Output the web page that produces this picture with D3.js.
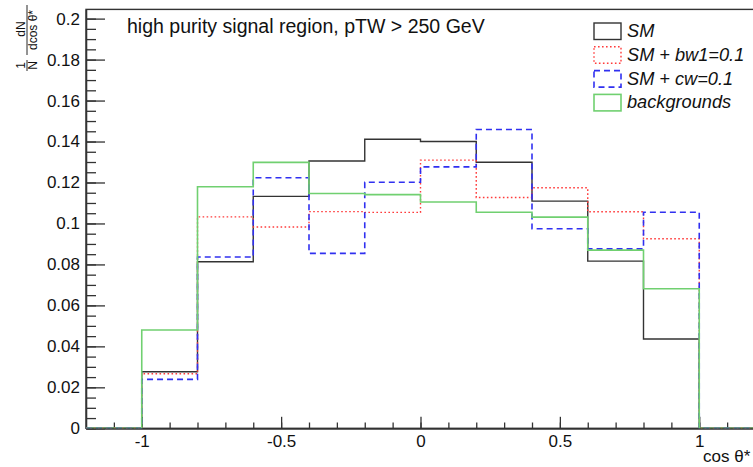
<!DOCTYPE html>
<html>
<head>
<meta charset="utf-8">
<script src="https://cdn.jsdelivr.net/npm/d3@7"></script>
<style>
  body { margin: 0; background: #fff; }
  svg { display: block; font-family: "Liberation Sans", Arial, Helvetica, sans-serif; }
</style>
</head>
<body>
<div id="chart"></div>
<script>
// bin edges of cos theta* (outer bins are empty)
const binEdges = [-1.2, -1, -0.8, -0.6, -0.4, -0.2, 0, 0.2, 0.4, 0.6, 0.8, 1, 1.2];

// normalised contents per bin
const smValues  = [0, 0.0276, 0.0813, 0.1132, 0.1305, 0.1411, 0.1400, 0.1299, 0.1109, 0.0816, 0.0436, 0];
const bw1Values = [0, 0.0266, 0.1032, 0.0983, 0.1058, 0.1054, 0.1309, 0.1127, 0.1174, 0.1057, 0.0925, 0];
const cwValues  = [0, 0.0239, 0.0836, 0.1223, 0.0854, 0.1201, 0.1276, 0.1459, 0.0974, 0.0876, 0.1055, 0];
const bkgValues = [0, 0.0480, 0.1179, 0.1298, 0.1146, 0.1141, 0.1105, 0.1055, 0.1031, 0.0870, 0.0681, 0];

const seriesNames = ["SM", "SM + bw1=0.1", "SM + cw=0.1", "backgrounds"];

const xMajorTicks = [-1, -0.5, 0, 0.5, 1];
const xTickLabels = ["-1", "-0.5", "0", "0.5", "1"];
const yMajorTicks = [0, 0.02, 0.04, 0.06, 0.08, 0.1, 0.12, 0.14, 0.16, 0.18, 0.2];
const yTickLabels = ["0", "0.02", "0.04", "0.06", "0.08", "0.1", "0.12", "0.14", "0.16", "0.18", "0.2"];

const titleText = "high purity signal region, pTW > 250 GeV";

//svg size
const width = 753;
const height = 467;
const frame = { left: 86, top: 9.4, right: 755, bottom: 428.3 };

const svg = d3.select("#chart")
    .append("svg")
    .attr("width", width)
    .attr("height", height);

//scales
const x = d3.scaleLinear().domain([-1.2, 1.2]).range([frame.left, frame.right]);
const y = d3.scaleLinear().domain([0, 0.2045]).range([frame.bottom, frame.top]);

//series styles
const styles = [
  { color: "#333333", dash: null, width: 1.4 },
  { color: "#ff3b3b", dash: "1.6,2.4", width: 1.4 },
  { color: "#3030f0", dash: "6,4", width: 1.6 },
  { color: "#70d070", dash: null, width: 1.6 },
];
const series = [smValues, bw1Values, cwValues, bkgValues].map((values, i) => ({
  name: seriesNames[i],
  values,
  ...styles[i],
}));

//frame
svg.append("rect")
    .attr("x", frame.left)
    .attr("y", frame.top)
    .attr("width", frame.right - frame.left)
    .attr("height", frame.bottom - frame.top)
    .attr("fill", "none")
    .attr("stroke", "#333")
    .attr("stroke-width", 1.4);

//axes
const yAxis = d3.axisLeft(y)
    .tickValues(yMajorTicks)
    .tickFormat((d, i) => yTickLabels[i])
    .tickSize(-19)
    .tickSizeOuter(0)
    .tickPadding(6);
const yMinor = d3.axisLeft(y)
    .tickValues(d3.range(0, 41).map((i) => i * 0.005))
    .tickFormat("")
    .tickSize(-10)
    .tickSizeOuter(0);
const xAxis = d3.axisBottom(x)
    .tickValues(xMajorTicks)
    .tickFormat((d, i) => xTickLabels[i])
    .tickSize(-11.5)
    .tickSizeOuter(0)
    .tickPadding(7);
const xMinor = d3.axisBottom(x)
    .tickValues(d3.range(-11, 12).map((i) => i / 10))
    .tickFormat("")
    .tickSize(-5.8)
    .tickSizeOuter(0);

const gY = svg.append("g").attr("transform", `translate(${frame.left},0)`);
gY.append("g").call(yMinor);
gY.append("g").call(yAxis);
const gX = svg.append("g").attr("transform", `translate(0,${frame.bottom})`);
gX.append("g").call(xMinor);
gX.append("g").call(xAxis);

svg.selectAll(".tick line, .domain")
    .attr("stroke", "#333")
    .attr("stroke-width", 1.3);
svg.selectAll(".tick text")
    .attr("fill", "#111")
    .style("font-family", "'Liberation Sans', Arial, sans-serif")
    .style("font-size", "17px");

//histograms
svg.append("clipPath").attr("id", "clip")
    .append("rect")
    .attr("x", frame.left)
    .attr("y", frame.top)
    .attr("width", frame.right - frame.left)
    .attr("height", frame.bottom - frame.top);

const step = d3.line()
    .x((d) => x(d[0]))
    .y((d) => y(d[1]))
    .curve(d3.curveStepAfter);

const gHist = svg.append("g").attr("clip-path", "url(#clip)");
gHist.selectAll("path.hist")
    .data(series)
    .join("path")
    .attr("class", "hist")
    .attr("fill", "none")
    .attr("stroke", (d) => d.color)
    .attr("stroke-width", (d) => d.width)
    .attr("stroke-dasharray", (d) => d.dash)
    .attr("d", (d) => {
      const pts = d.values.map((v, i) => [binEdges[i], v]);
      pts.push([binEdges[binEdges.length - 1], d.values[d.values.length - 1]]);
      return step(pts);
    });

//title, sized to span the same width as in the plot
const title = svg.append("text")
    .attr("x", 127)
    .attr("y", 32.5)
    .attr("font-size", 17)
    .attr("fill", "#111")
    .text(titleText);
const titleLen = title.node().getComputedTextLength();
title.attr("font-size", 17 * 358 / titleLen);

//legend
const legend = svg.append("g").attr("transform", "translate(594,23)");
const entry = legend.selectAll("g.entry")
    .data(series)
    .join("g")
    .attr("class", "entry")
    .attr("transform", (d, i) => `translate(0,${i * 23.8})`);
entry.append("rect")
    .attr("width", 27)
    .attr("height", 16.5)
    .attr("fill", "none")
    .attr("stroke", (d) => d.color)
    .attr("stroke-width", (d) => d.width)
    .attr("stroke-dasharray", (d) => d.dash);
entry.append("text")
    .attr("x", 33)
    .attr("y", 14)
    .attr("font-size", 18.2)
    .attr("font-style", "italic")
    .attr("fill", "#111")
    .text((d) => d.name);

//axis titles
const yTitle = svg.append("g")
    .attr("transform", "rotate(-90)")
    .attr("font-size", 12)
    .attr("fill", "#111")
    .attr("text-anchor", "middle");
yTitle.append("text").attr("x", -29).attr("y", 25).text("dN");
yTitle.append("text").attr("x", -30).attr("y", 36.5).text("dcos \u03b8*");
yTitle.append("line")
    .attr("x1", -55).attr("x2", -5)
    .attr("y1", 27).attr("y2", 27)
    .attr("stroke", "#111").attr("stroke-width", 0.9);
yTitle.append("text").attr("x", -65.5).attr("y", 25).text("1");
yTitle.append("text").attr("x", -65.5).attr("y", 36.5).text("N");
yTitle.append("line")
    .attr("x1", -71).attr("x2", -60)
    .attr("y1", 27).attr("y2", 27)
    .attr("stroke", "#111").attr("stroke-width", 0.9);

svg.append("text")
    .attr("x", 703)
    .attr("y", 462)
    .attr("font-size", 17)
    .attr("fill", "#111")
    .text("cos \u03b8*");
</script>
</body>
</html>
